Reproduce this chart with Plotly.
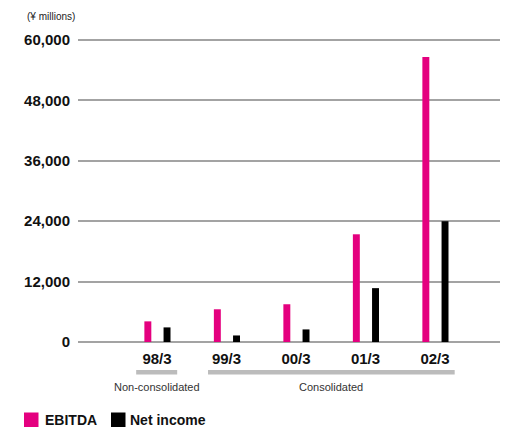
import plotly.graph_objects as go

# Fiscal years (March year-end)
periods = ["98/3", "99/3", "00/3", "01/3", "02/3"]
# ¥ millions
ebitda = [4100, 6500, 7500, 21400, 56600]
net_income = [2900, 1300, 2500, 10700, 24000]
y_ticks = [0, 12000, 24000, 36000, 48000, 60000]

PINK = "#E4007F"
BLACK = "#000000"
GRID = "#a3a3a3"
FONT = "Liberation Sans, Arial, Helvetica, sans-serif"

fig = go.Figure()
fig.add_trace(go.Bar(x=periods, y=ebitda, name="EBITDA", marker_color=PINK,
                     width=0.1, offset=-0.182, marker_line_width=0, showlegend=False))
fig.add_trace(go.Bar(x=periods, y=net_income, name="Net income", marker_color=BLACK,
                     width=0.1, offset=0.094, marker_line_width=0, showlegend=False))

# plot area: 78..500 px horizontally, 37..342 px vertically
TOP, BOTTOM, LEFT, RIGHT = 37, 342, 78, 500
H = BOTTOM - TOP
W = RIGHT - LEFT
YMAX = 60000 * H / (BOTTOM - 40)


def py(pixel):
    return (BOTTOM - pixel) / H


def px(pixel):
    return (pixel - LEFT) / W


shapes = []
# bracket bars marking consolidation basis
for x0, x1 in [(-0.30, 0.29), (0.734, 4.283)]:
    shapes.append(dict(type="line", xref="x", yref="paper", x0=x0, x1=x1,
                       y0=py(372.2), y1=py(372.2), line=dict(color="#bcbcbc", width=4.5)))
# legend swatches
for x0, color in [(24, PINK), (111, BLACK)]:
    shapes.append(dict(type="rect", xref="paper", yref="paper",
                       x0=px(x0), x1=px(x0 + 14.5), y0=py(427), y1=py(412.5),
                       fillcolor=color, line_width=0))

annotations = [
    dict(text="(¥ millions)", xref="paper", yref="paper", x=px(25), y=py(16.7),
         xanchor="left", yanchor="middle", showarrow=False,
         font=dict(family=FONT, size=10, color="#222")),
    dict(text="Non-consolidated", xref="x", yref="paper", x=0, y=py(386.7),
         xanchor="center", yanchor="middle", showarrow=False,
         font=dict(family=FONT, size=11, color="#333")),
    dict(text="Consolidated", xref="x", yref="paper", x=2.5, y=py(386.7),
         xanchor="center", yanchor="middle", showarrow=False,
         font=dict(family=FONT, size=11, color="#333")),
    dict(text="EBITDA", xref="paper", yref="paper", x=px(42.5), y=py(419.5),
         xanchor="left", yanchor="middle", showarrow=False,
         font=dict(family=FONT, size=14, color="#111", weight="bold")),
    dict(text="Net income", xref="paper", yref="paper", x=px(128), y=py(419.5),
         xanchor="left", yanchor="middle", showarrow=False,
         font=dict(family=FONT, size=14, color="#111", weight="bold")),
]

fig.update_layout(
    width=507, height=427,
    margin=dict(l=LEFT, r=507 - RIGHT, t=TOP, b=427 - BOTTOM, pad=0),
    paper_bgcolor="white", plot_bgcolor="white",
    barmode="overlay",
    shapes=shapes, annotations=annotations,
    xaxis=dict(type="category", range=[-1.137, 4.935], showgrid=False,
               showline=False, zeroline=False, ticks="",
               tickfont=dict(family=FONT, size=15, color="#111", weight="bold"),
               ticklabelstandoff=6),
    yaxis=dict(range=[0, YMAX], tickvals=y_ticks, tickformat=",d",
               showgrid=True, gridcolor=GRID, gridwidth=1.5,
               zeroline=True, zerolinecolor=GRID, zerolinewidth=1.5,
               showline=False, ticks="",
               tickfont=dict(family=FONT, size=15, color="#111", weight="bold"),
               ticklabelstandoff=7),
)

fig.write_html("out.html")
